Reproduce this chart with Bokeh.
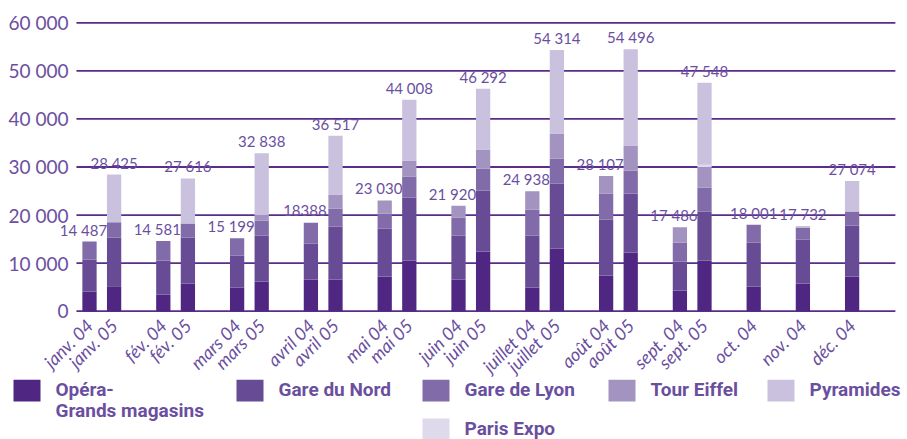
import math
from bokeh.plotting import figure
from bokeh.models import ColumnDataSource, Range1d
from bokeh.layouts import column
from bokeh.embed import file_html
from bokeh.resources import INLINE
from bokeh.core.properties import value

# ---------------- data ----------------
bar_labels = ["janv. 04", "janv. 05", "fév. 04", "fév. 05", "mars 04", "mars 05",
              "avril 04", "avril 05", "mai 04", "mai 05", "juin 04", "juin 05",
              "juillet 04", "juillet 05", "août 04", "août 05", "sept. 04", "sept. 05",
              "oct. 04", "nov. 04", "déc. 04"]
total_labels = ["14 487", "28 425", "14 581", "27 616", "15 199", "32 838",
                "18388", "36 517", "23 030", "44 008", "21 920", "46 292",
                "24 938", "54 314", "28 107", "54 496", "17 486", "47 548",
                "18 001", "17 732", "27 074"]
opera = [4100, 5200, 3470, 5760, 4920, 6170, 6590, 6590, 7210, 10540, 6590, 12420,
         4920, 13040, 7420, 12210, 4300, 10540, 5130, 5760, 7210]
gare_nord = [6650, 10130, 7070, 9570, 6660, 9570, 7490, 11030, 9990, 13110, 9150, 12690,
             10820, 13530, 11650, 12280, 6030, 10200, 9160, 9160, 10610]
gare_lyon = [3737, 3190, 4041, 2910, 3619, 3120, 4308, 3750, 3120, 4370, 3750, 4580,
             5410, 5200, 5410, 4790, 3950, 4990, 3711, 2500, 2910]
tour_eiffel = [0, 0, 0, 0, 0, 1040, 0, 2910, 2710, 3330, 2430, 3950,
               3788, 5200, 3627, 5200, 3206, 4230, 0, 0, 0]
paris_expo = [0, 0, 0, 0, 0, 0, 0, 0, 0, 0, 0, 0,
              0, 0, 0, 0, 0, 490, 0, 0, 0]
pyramides = [0, 9905, 0, 9376, 0, 12938, 0, 12237, 0, 12658, 0, 12652,
             0, 17344, 0, 20016, 0, 17098, 0, 312, 6344]

series_names = ["Opéra-\nGrands magasins", "Gare du Nord", "Gare de Lyon",
                "Tour Eiffel", "Pyramides", "Paris Expo"]
y_ticks = [0, 10000, 20000, 30000, 40000, 50000, 60000]
y_tick_labels = ["0", "10 000", "20 000", "30 000", "40 000", "50 000", "60 000"]

# ---------------- styles ----------------
C_OPERA, C_NORD, C_LYON, C_EIFFEL, C_PYR, C_EXPO = (
    "#502683", "#674b95", "#816ba8", "#a393c1", "#c9c1dd", "#dedaeb")
TEXT = "#6b4f9f"
LINE = "#5a2d8c"
FONT = "Lato"

# slot positions: consecutive years of one month share adjacent slots, a gap between months
months = [lb.rsplit(" ", 1)[0] for lb in bar_labels]
xpos = []
for i, m in enumerate(months):
    if i == 0:
        xpos.append(0)
    elif m == months[i - 1]:
        xpos.append(xpos[-1] + 1)
    else:
        xpos.append(xpos[-1] + 2)
paired = [months.count(m) > 1 for m in months]
xoff = [-6 if (paired[i] and bar_labels[i].endswith("04")) else 0 for i in range(len(months))]

totals = [sum(v) for v in zip(opera, gare_nord, gare_lyon, tour_eiffel, paris_expo, pyramides)]

src = ColumnDataSource(dict(x=xpos, opera=opera, nord=gare_nord, lyon=gare_lyon,
                            eiffel=tour_eiffel, expo=paris_expo, pyr=pyramides,
                            total=totals, lbl=total_labels, xoff=xoff,
                            base=[0] * len(xpos), ml=bar_labels))

# plotting area: frame covers the whole canvas so that every text stays visible
GRID_X0 = xpos[0] - 0.53          # left end of the value grid
GRID_X1 = xpos[-1] + 1.76         # right end of the value grid
p = figure(width=907, height=379,
           x_range=Range1d(-3.618, 33.252), y_range=Range1d(-14209, 64635),
           output_backend="svg", toolbar_location=None, min_border=0,
           x_axis_type=None, y_axis_type=None)
p.outline_line_color = None
p.background_fill_color = "white"
p.border_fill_color = "white"
for g in p.grid:
    g.visible = False

# value grid (0 line doubles as the category axis)
p.segment(x0=[GRID_X0] * len(y_ticks), x1=[GRID_X1] * len(y_ticks), y0=y_ticks, y1=y_ticks,
          line_color=LINE, line_width=1.8)
p.text(x=[GRID_X0] * len(y_ticks), y=y_ticks, text=y_tick_labels, x_offset=-8,
       text_align="right", text_baseline="middle", text_color=TEXT,
       text_font=value(FONT), text_font_size="19px")

p.vbar_stack(["opera", "nord", "lyon", "eiffel", "expo", "pyr"], x="x", width=0.58,
             color=[C_OPERA, C_NORD, C_LYON, C_EIFFEL, C_EXPO, C_PYR],
             line_color=None, source=src)

# totals above the bars
p.text(x="x", y="total", text="lbl", source=src, x_offset="xoff", y_offset=-12,
       text_align="center", text_baseline="alphabetic", text_color=TEXT,
       text_font=value(FONT), text_font_size="15px")

# month labels under the axis, rotated
p.text(x="x", y="base", text="ml", source=src, angle=math.pi / 4, x_offset=0, y_offset=11,
       text_align="right", text_baseline="middle", text_color=TEXT,
       text_font=value(FONT), text_font_style="italic", text_font_size="18px")

# ---------------- legend (separate strip) ----------------
LH = 60
leg = figure(width=907, height=LH, x_range=Range1d(0, 907), y_range=Range1d(LH, 0),
             output_backend="svg", toolbar_location=None, min_border=0,
             x_axis_type=None, y_axis_type=None)
leg.outline_line_color = None
leg.background_fill_color = "white"
leg.border_fill_color = "white"
for g in leg.grid:
    g.visible = False

col_left = [13, 236, 422, 608, 767, 422]
row_top = [0, 0, 0, 0, 0, 39]
sw_colors = [C_OPERA, C_NORD, C_LYON, C_EIFFEL, C_PYR, C_EXPO]
sw_w, sw_h, gap = 27, 22, 15
leg.quad(left=col_left, right=[c + sw_w for c in col_left],
         top=row_top, bottom=[r + sw_h for r in row_top],
         color=sw_colors, line_color=None)

tx, ty, tt = [], [], []
for name, cl, rt in zip(series_names, col_left, row_top):
    for k, line in enumerate(name.split("\n")):
        tx.append(cl + sw_w + gap)
        ty.append(rt + 10 + k * 21)
        tt.append(line)
leg.text(x=tx, y=ty, text=tt, text_align="left", text_baseline="middle",
         text_color=TEXT, text_font=value("Roboto"),
         text_font_style="bold", text_font_size="19px")

layout = column(p, leg, spacing=0)
open("out.html", "w").write(file_html(layout, INLINE))
